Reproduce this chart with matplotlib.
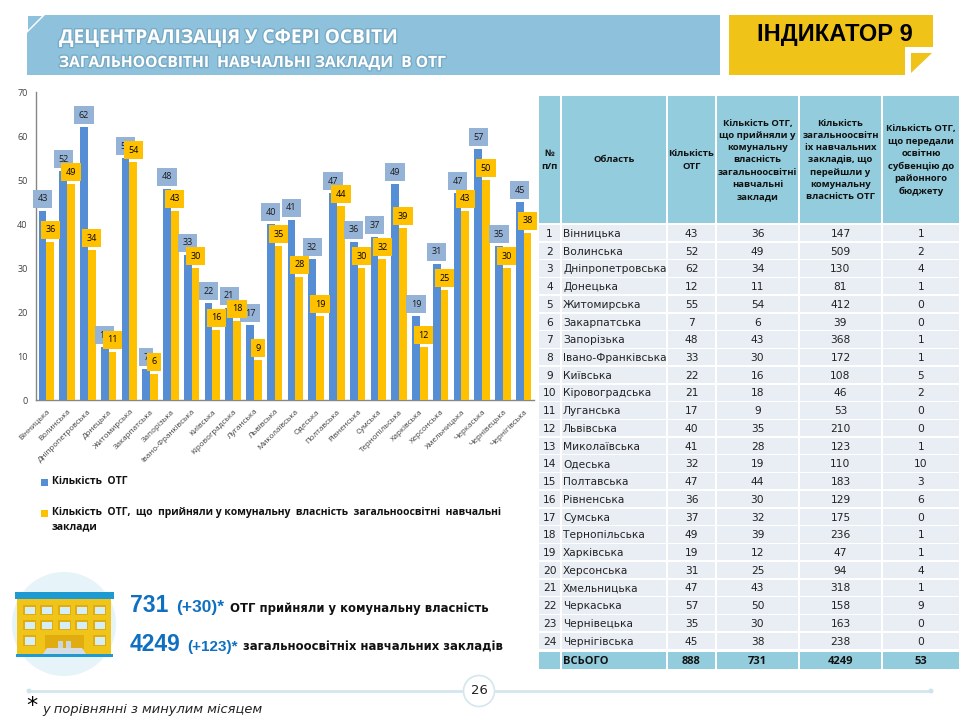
import matplotlib
matplotlib.use("Agg")
import matplotlib.pyplot as plt
import matplotlib.patheffects as pe
from matplotlib import font_manager as fm
from matplotlib.patches import Rectangle, Polygon, Circle
import numpy as np

plt.rcParams['font.family'] = ['DejaVu Sans']

regions = ["Вінницька","Волинська","Дніпропетровська","Донецька","Житомирська","Закарпатська",
           "Запорізька","Івано-Франківська","Київська","Кіровоградська","Луганська","Львівська",
           "Миколаївська","Одеська","Полтавська","Рівненська","Сумська","Тернопільська","Харківська",
           "Херсонська","Хмельницька","Черкаська","Чернівецька","Чернігівська"]
otg = [43,52,62,12,55,7,48,33,22,21,17,40,41,32,47,36,37,49,19,31,47,57,35,45]
accepted = [36,49,34,11,54,6,43,30,16,18,9,35,28,19,44,30,32,39,12,25,43,50,30,38]
schools = [147,509,130,81,412,39,368,172,108,46,53,210,123,110,183,129,175,236,47,94,318,158,163,238]
subv = [1,2,4,1,0,0,1,1,5,2,0,0,1,10,3,6,0,1,1,4,1,9,0,0]
totals = ["ВСЬОГО","888","731","4249","53"]
headers = ["№\nп/п","Область","Кількість\nОТГ",
           "Кількість ОТГ,\nщо прийняли у\nкомунальну\nвласність\nзагальноосвітні\nнавчальні\nзаклади",
           "Кількість\nзагальноосвітн\nіх навчальних\nзакладів, що\nперейшли у\nкомунальну\nвласність ОТГ",
           "Кількість ОТГ,\nщо передали\nосвітню\nсубвенцію до\nрайонного\nбюджету"]
legend_labels = ["Кількість  ОТГ",
                 "Кількість  ОТГ,  що  прийняли у комунальну  власність  загальноосвітні  навчальні\nзаклади"]

# exact bold Arial-metric face, looked up by its file name
def bold_face(stem, family, size):
    for f in fm.fontManager.ttflist:
        if f.fname.endswith(stem):
            return fm.FontProperties(fname=f.fname, size=size)
    return fm.FontProperties(family=family, weight="bold", size=size)
def arial_bold(size):
    return bold_face("LiberationSans-Bold.ttf", "Liberation Sans", size)

BLUE, YEL = "#558ED5", "#FFC000"
BOXB = "#95B3D7"
W, H = 960, 720
fig = plt.figure(figsize=(9.6, 7.2), dpi=100, facecolor="white")

# overlay in pixel coordinates, for slide furniture and the table
ov = fig.add_axes([0, 0, 1, 1], zorder=0)
ov.set_xlim(0, W); ov.set_ylim(H, 0); ov.axis("off")

# title banner
ov.add_patch(Polygon([(45,15),(720,15),(720,75),(27,75),(27,33)], fc="#8DC1DC", ec="none"))
ov.add_patch(Polygon([(28,16),(42,16),(28,30)], fc="#8DC1DC", ec="none"))
sh = [pe.Stroke(linewidth=2, foreground="#6a9ab5", alpha=.55), pe.Normal()]
ov.text(59, 38, "ДЕЦЕНТРАЛІЗАЦІЯ У СФЕРІ ОСВІТИ", color="white", fontsize=13.7, fontweight="bold",
        family="Open Sans", va="center", path_effects=sh)
ov.text(59, 63, "ЗАГАЛЬНООСВІТНІ  НАВЧАЛЬНІ ЗАКЛАДИ  В ОТГ", color="white", fontsize=11.2, fontweight="bold",
        family="Open Sans", va="center", path_effects=sh)

# indicator tag
ov.add_patch(Polygon([(729,15),(933,15),(933,47),(905,47),(905,75),(729,75)], fc="#EFC318", ec="none"))
ov.add_patch(Polygon([(911,53),(932,53),(911,73)], fc="#EFC318", ec="none"))
ov.text(835, 35, "ІНДИКАТОР 9", fontproperties=arial_bold(17), ha="center", va="center", color="black")

# chart
x0, x1, ytop, ybot = 36, 534, 92, 400
ax = fig.add_axes([x0/W, 1-ybot/H, (x1-x0)/W, (ybot-ytop)/H], zorder=2)
ax.patch.set_alpha(0)
x = np.arange(len(regions))
bw = 0.375
b1 = ax.bar(x-bw/2, otg, bw, color=BLUE, zorder=2, label=legend_labels[0])
b2 = ax.bar(x+bw/2, accepted, bw, color=YEL, zorder=3, label=legend_labels[1])
ax.set_xlim(-0.5, len(regions)-0.5); ax.set_ylim(0, 70)
ax.set_yticks(range(0, 71, 10))
ax.set_xticks(x)
ax.set_xticklabels(regions, rotation=45, ha="right", rotation_mode="anchor", family="Open Sans", fontsize=5.8)
for t in ax.get_yticklabels():
    t.set_family("Open Sans"); t.set_fontsize(6.5)
ax.tick_params(length=0, labelcolor="#404040", pad=6)
for s in ("top","right"): ax.spines[s].set_visible(False)
for s in ("left","bottom"):
    ax.spines[s].set_color("#868686"); ax.spines[s].set_linewidth(1)
for xi, v in zip(x, otg):
    ax.annotate(str(v), (xi-bw/2, v), xytext=(0, 8.6), textcoords="offset points", ha="center", va="center",
                fontsize=6.5, family="Open Sans", color="#1a1a1a", zorder=4,
                bbox=dict(boxstyle="square,pad=0.5", fc=BOXB, ec="none"))
for xi, v in zip(x, accepted):
    ax.annotate(str(v), (xi+bw/2, v), xytext=(0, 8.6), textcoords="offset points", ha="center", va="center",
                fontsize=6.5, family="Open Sans", color="black", zorder=5,
                bbox=dict(boxstyle="square,pad=0.5", fc=YEL, ec="none"))

# legend
for col, yy, lab in ((BLUE, 482, legend_labels[0]), (YEL, 513, legend_labels[1])):
    ov.add_patch(Rectangle((41, yy-3), 7, 7, fc=col, ec="none"))
    ov.text(52, yy-6, lab, fontsize=7.5, fontweight="bold", family="Open Sans", va="top", color="#111111", linespacing=1.45)

# table
cols = [(539,560),(562,666),(668,715),(717,798),(800,881),(883,959)]
HEAD = "#93CDDD"; ROW = "#E9EDF4"
for (a, b), h in zip(cols, headers):
    ov.add_patch(Rectangle((a, 96), b-a, 127, fc=HEAD, ec="none"))
    ov.text((a+b)/2, 160, h, ha="center", va="center", fontsize=6.8, fontweight="bold",
            family="Open Sans", color="#111111", linespacing=1.47)
row_h = (650.5-225)/24
for i in range(24):
    top = 225 + i*row_h
    vals = [str(i+1), regions[i], otg[i], accepted[i], schools[i], subv[i]]
    for j, ((a, b), v) in enumerate(zip(cols, vals)):
        ov.add_patch(Rectangle((a, top), b-a, row_h-1.5, fc=ROW, ec="none"))
        if j == 1:
            ov.text(a+1, top+row_h/2, v, ha="left", va="center", fontsize=7.7, color="#222222")
        else:
            ov.text((a+b)/2, top+row_h/2, str(v), ha="center", va="center", fontsize=7.7, color="#222222")
for j, (a, b) in enumerate(cols):
    ov.add_patch(Rectangle((a, 651.5), b-a, 17, fc=HEAD, ec="none"))
    if j == 1:
        ov.text(a+1, 661, totals[0], ha="left", va="center", fontsize=8, fontweight="bold", family="Open Sans", color="#111111")
    elif j > 1:
        ov.text((a+b)/2, 661, totals[j-1], ha="center", va="center", fontsize=8, fontweight="bold", family="Open Sans", color="#111111")

# building icon
ov.add_patch(Circle((64,624), 52, fc="#E6F3F8", ec="none"))
ov.add_patch(Rectangle((17,599), 94, 56, fc="#F0C419", ec="none"))
ov.add_patch(Rectangle((15,592), 99, 7, fc="#1E9AD2", ec="none"))
ov.add_patch(Rectangle((16,654), 97, 3, fc="#1E9AD2", ec="none"))
for wx in (23,40,58,75,93):
    for wy in (605,620):
        ov.add_patch(Rectangle((wx,wy), 13, 10, fc="#E0AC10", ec="none"))
        ov.add_patch(Rectangle((wx+1.5,wy+1.5), 10, 7, fc="#D4EEF7", ec="none"))
for wx in (23,93):
    ov.add_patch(Rectangle((wx,635), 13, 11, fc="#E0AC10", ec="none"))
    ov.add_patch(Rectangle((wx+1.5,636.5), 10, 8, fc="#D4EEF7", ec="none"))
ov.add_patch(Rectangle((45,635), 39, 14, fc="#E0AC10", ec="none"))
ov.add_patch(Rectangle((58,641), 5, 8, fc="#C9D6DE", ec="none"))
ov.add_patch(Rectangle((66,641), 5, 8, fc="#C9D6DE", ec="none"))
ov.add_patch(Polygon([(47,648),(82,648),(86,654),(43,654)], fc="#D5DCE4", ec="none"))

# key figures
BL = "#0F6FC0"
def run(px, py, parts):
    """Lay text runs one after another, starting at pixel x px on baseline py."""
    r = fig.canvas.get_renderer()
    for s, size, col, gap in parts:
        if col == BL:
            t = ov.text(px, py, s, fontproperties=arial_bold(size), color=col, va="baseline")
        else:
            t = ov.text(px, py, s, fontsize=size, fontweight="bold", family="DejaVu Sans", color=col, va="baseline")
        px = t.get_window_extent(r).x1 + gap
run(130, 612, [("731", 16.5, BL, 8), ("(+30)*", 12.5, BL, 6), ("ОТГ прийняли у комунальну власність", 8.4, "#111111", 0)])
run(130, 651, [("4249", 16.5, BL, 7), ("(+123)*", 11, BL, 5), ("загальноосвітніх навчальних закладів", 8.4, "#111111", 0)])

# footer
ov.plot([29,931],[691,691], color="#D5E6EE", lw=2, zorder=1)
ov.add_patch(Circle((29,691), 2.5, fc="#CFE3EC", ec="none"))
ov.add_patch(Circle((931,691), 2.5, fc="#CFE3EC", ec="none"))
ov.add_patch(Circle((479,691), 15.5, fc="white", ec="#D5E6EE", lw=1.2, zorder=2))
ov.text(479, 691, "26", ha="center", va="center", fontsize=9.5, color="#222222", zorder=3)
ov.text(26, 706, "*", fontsize=16, color="black", va="center")
ov.text(42, 709, "у порівнянні з минулим місяцем", fontsize=9.4, style="italic", va="center", color="#222222")

fig.savefig("out.png", dpi=100)
